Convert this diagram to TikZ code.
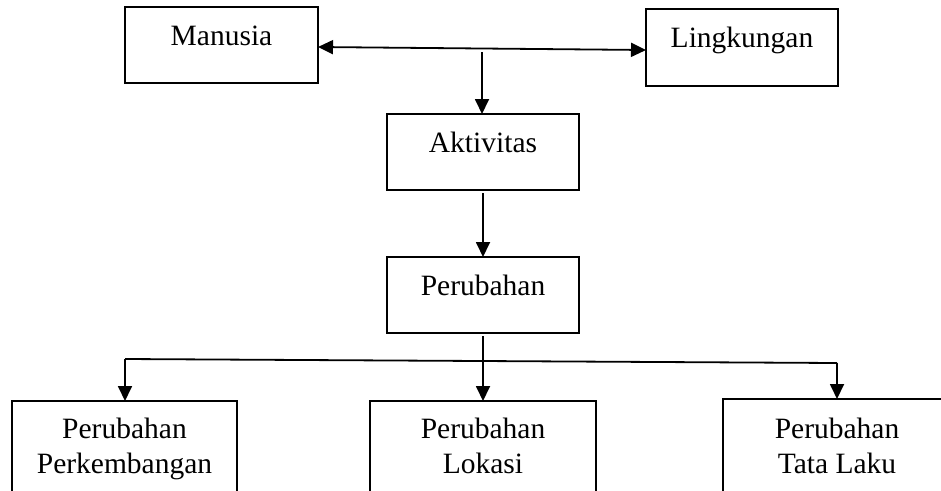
\documentclass[tikz,border=0pt]{standalone}
\usepackage{fontspec}
\setmainfont{Liberation Serif}
\usetikzlibrary{arrows.meta,calc}
\begin{document}
\begin{tikzpicture}[x=1pt,y=-1pt,
  >={Triangle[length=15pt,width=14pt]},
  box/.style={draw,line width=1.8pt,inner sep=0pt,outer sep=0pt},
  lbl/.style={anchor=base,font=\fontsize{29.5}{35}\selectfont,align=center,inner sep=0pt},
  ln/.style={line width=1.8pt}]
\useasboundingbox (0,0) rectangle (941,490);
\clip (0,0) rectangle (941,490);
% boxes
\node[box,minimum width=193pt,minimum height=76pt] (man) at (221.5,45) {};
\node[box,minimum width=192pt,minimum height=77pt] (lin) at (742,47.5) {};
\node[box,minimum width=192pt,minimum height=76pt] (akt) at (483,152) {};
\node[box,minimum width=192pt,minimum height=76pt] (per) at (483,295) {};
\node[box,minimum width=225pt,minimum height=119pt] (pk) at (124.5,460.5) {};
\node[box,minimum width=226pt,minimum height=119pt] (lok) at (483,460.5) {};
\node[box,minimum width=237pt,minimum height=121pt] (tl) at (841.5,459.5) {};
% texts
\node[lbl] (tman) at (221.5,45) {Manusia};
\node[lbl] (tlin) at (742,47) {Lingkungan};
\node[lbl] (takt) at (483,152) {Aktivitas};
\node[lbl] (tper) at (483,295) {Perubahan};
\node[lbl] (tpk) at (124.5,473) {Perubahan\\Perkembangan};
\node[lbl] (tlok) at (483,473) {Perubahan\\Lokasi};
\node[lbl] (ttl) at (837,473) {Perubahan\\Tata Laku};
% connectors
\coordinate (c1) at (482,52);
\coordinate (hl) at (125,359);
\coordinate (hr) at (837,363);
\draw[ln,<->] ([yshift=-2pt]man.east) -- ([yshift=-2.5pt]lin.west);
\draw[ln,->] (c1) -- (c1 |- akt.north);
\draw[ln,->,shorten <=3pt] (akt.south) -- (per.north);
\draw[ln] (hl) -- (hr);
\draw[ln,->,shorten <=3pt] (per.south) -- (per.south |- lok.north);
\draw[ln,->] (hl) -- (hl |- pk.north);
\draw[ln,->] (hr) -- (hr |- tl.north);
\end{tikzpicture}
\end{document}
